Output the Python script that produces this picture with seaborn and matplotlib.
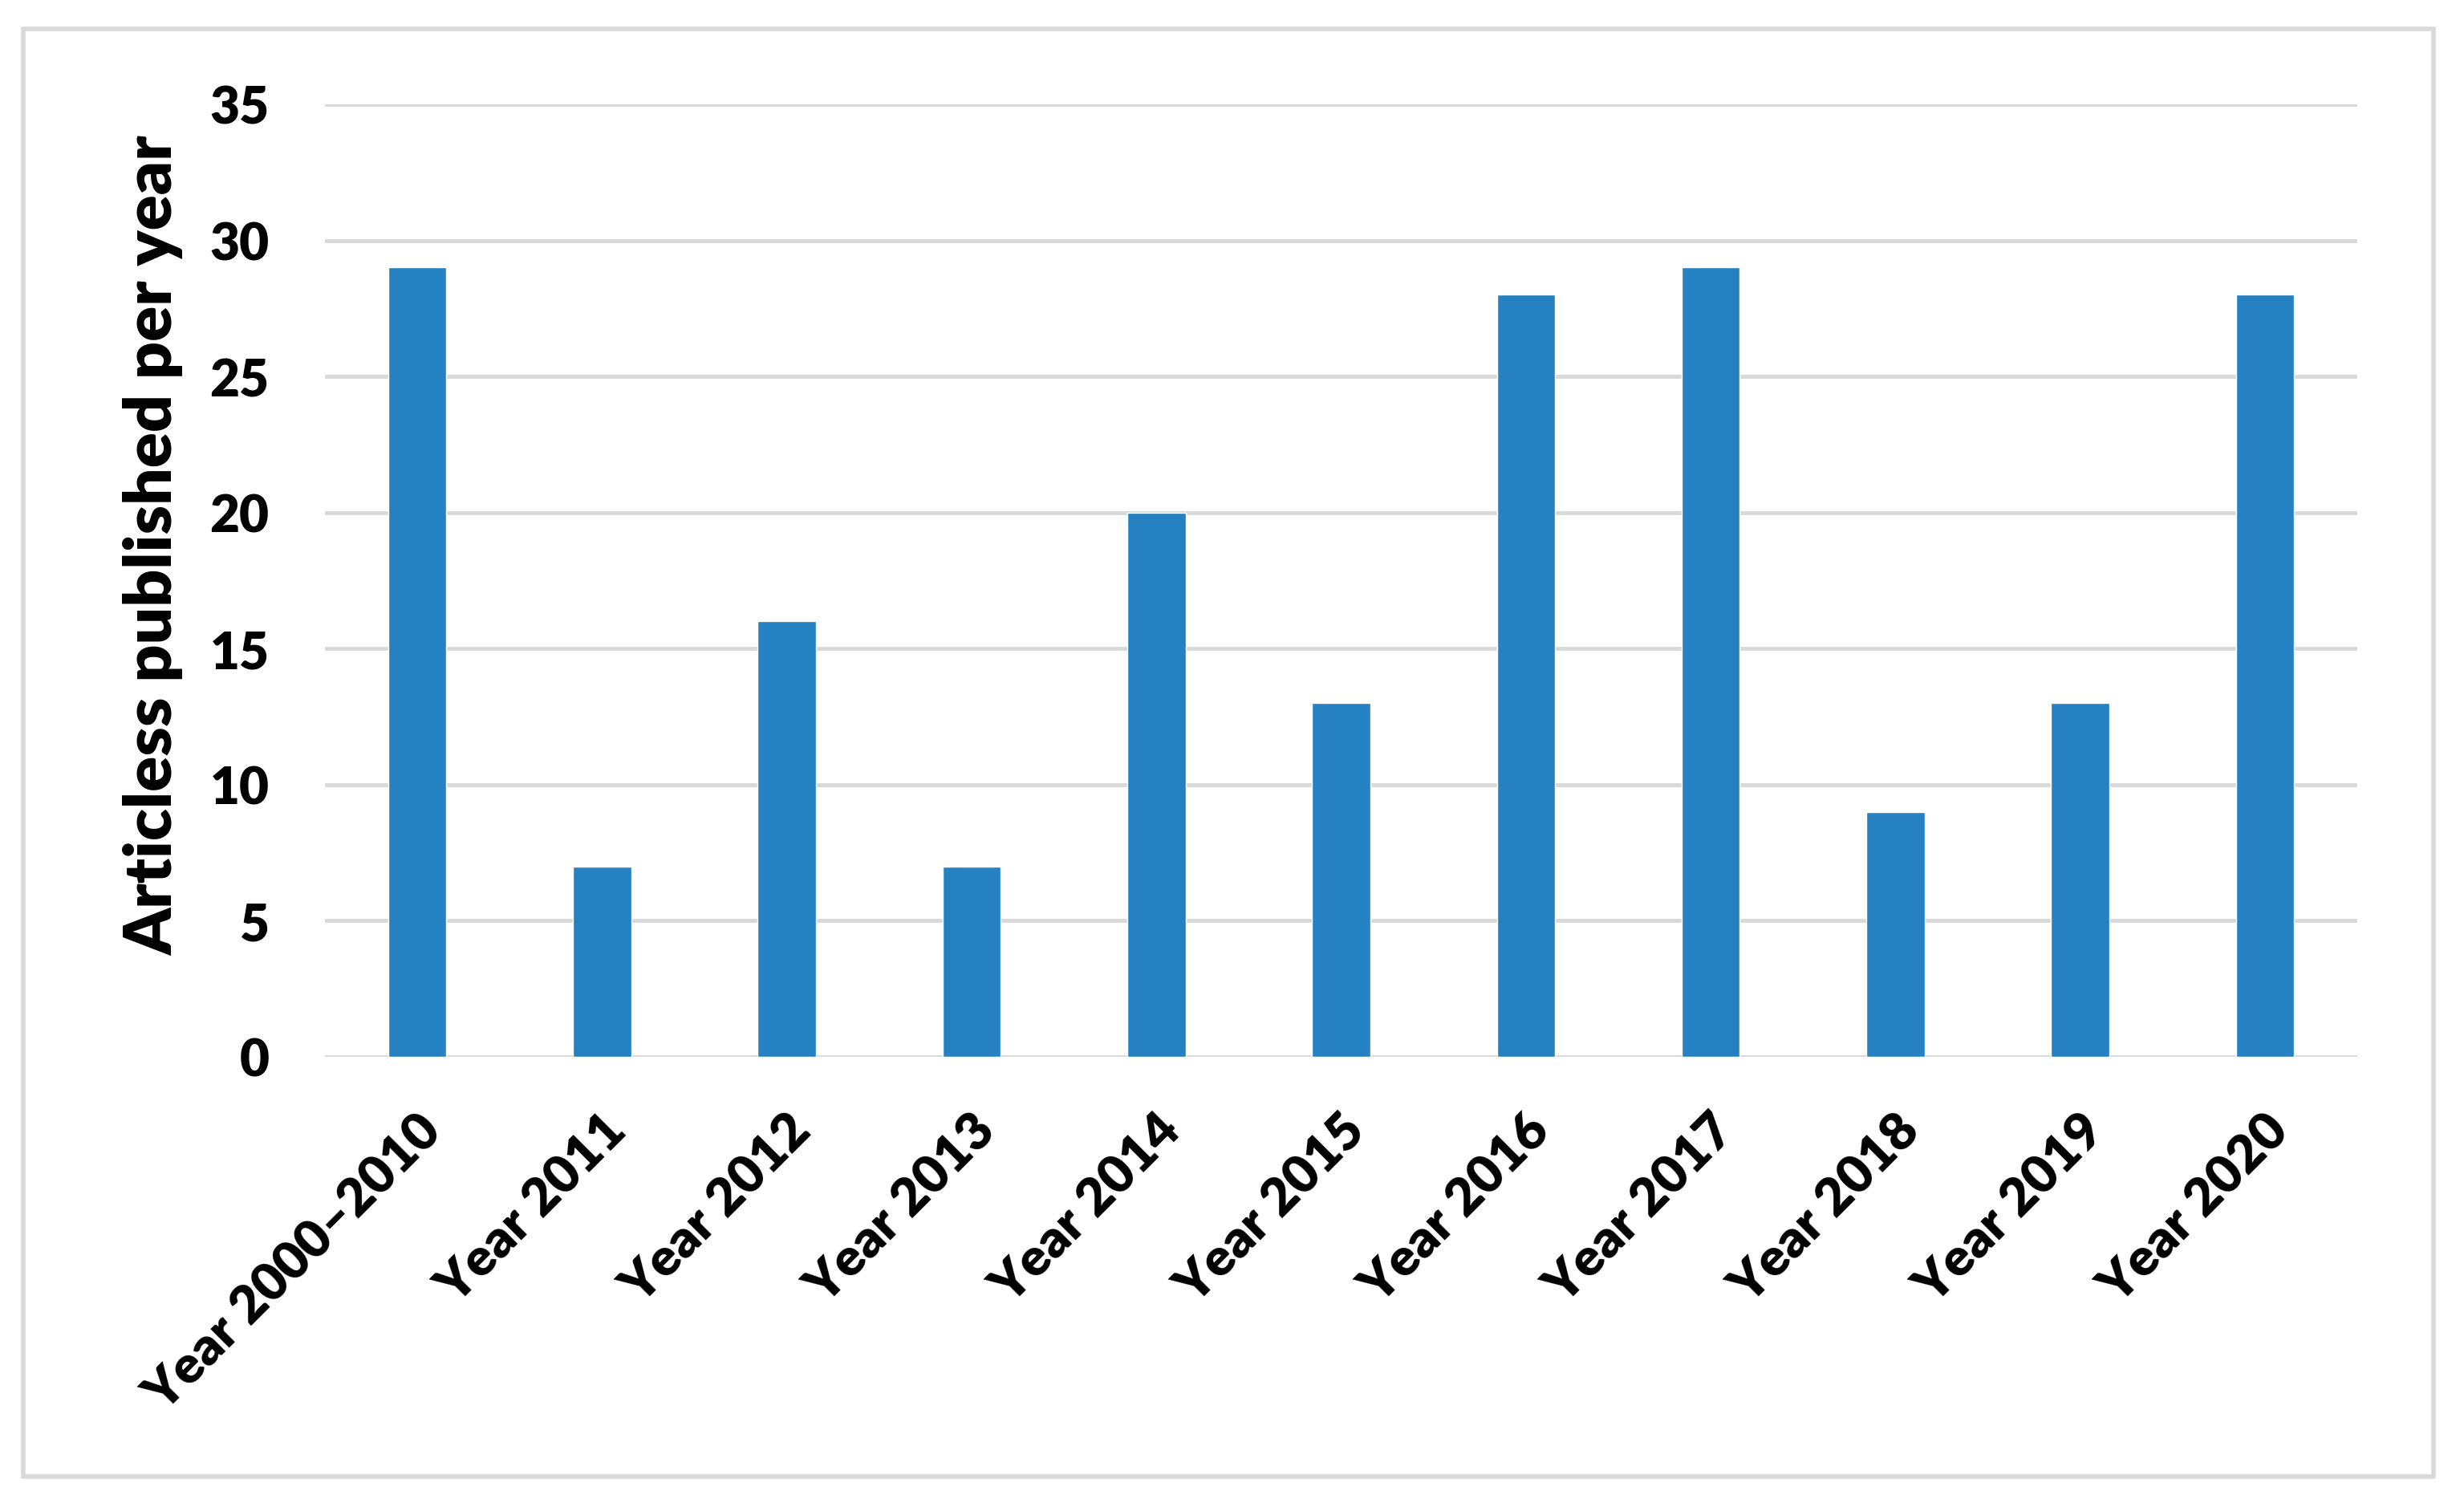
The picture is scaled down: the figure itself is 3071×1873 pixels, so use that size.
import matplotlib
matplotlib.use('Agg')
import matplotlib.pyplot as plt
import seaborn as sns
import pandas as pd
from matplotlib.patches import Rectangle

categorias = ['Year 2000–2010', 'Year 2011', 'Year 2012', 'Year 2013', 'Year 2014',
              'Year 2015', 'Year 2016', 'Year 2017', 'Year 2018', 'Year 2019', 'Year 2020']
artigos = [29, 7, 16, 7, 20, 13, 28, 29, 9, 13, 28]
ticks_y = [0, 5, 10, 15, 20, 25, 30, 35]

df = pd.DataFrame({'Ano': categorias, 'Artigos': artigos})

sns.set_style('white')
plt.rcParams['font.family'] = ['Lato', 'DejaVu Sans']
plt.rcParams['font.weight'] = 'heavy'
plt.rcParams['text.color'] = 'black'
plt.rcParams['xtick.color'] = 'black'
plt.rcParams['ytick.color'] = 'black'
plt.rcParams['axes.labelcolor'] = 'black'

fig = plt.figure(figsize=(30.71, 18.74), dpi=100)
ax = fig.add_axes([0.1319, 0.2967, 0.8248, 0.6334])

sns.barplot(data=df, x='Ano', y='Artigos', color='#2581c1', saturation=1,
            width=0.315, ax=ax, zorder=3)

ax.set_ylim(0, 35)
ax.set_xlim(-0.5, len(categorias) - 0.5)
ax.set_yticks(ticks_y)
ax.yaxis.grid(True, color='#d9d9d9', linewidth=3.5, zorder=0)
ax.set_axisbelow(True)
for s in ax.spines.values():
    s.set_visible(False)

ax.tick_params(axis='y', length=0, pad=50, labelsize=46)
ax.tick_params(axis='x', length=0, pad=44, labelsize=47)
plt.setp(ax.get_xticklabels(), rotation=45, ha='right', rotation_mode='anchor',
         fontweight='heavy')
plt.setp(ax.get_yticklabels(), fontweight='heavy')

ax.set_xlabel('')
ax.set_ylabel('Articless published per year', fontsize=59, fontweight='heavy')
ax.yaxis.set_label_coords(-0.0695, 0.537)

# moldura externa cinza
fig.patches.append(Rectangle((0.0095, 0.0175), 0.978, 0.963, transform=fig.transFigure,
                             fill=False, edgecolor='#d9d9d9', linewidth=4))

fig.savefig('out.png', dpi=100)
